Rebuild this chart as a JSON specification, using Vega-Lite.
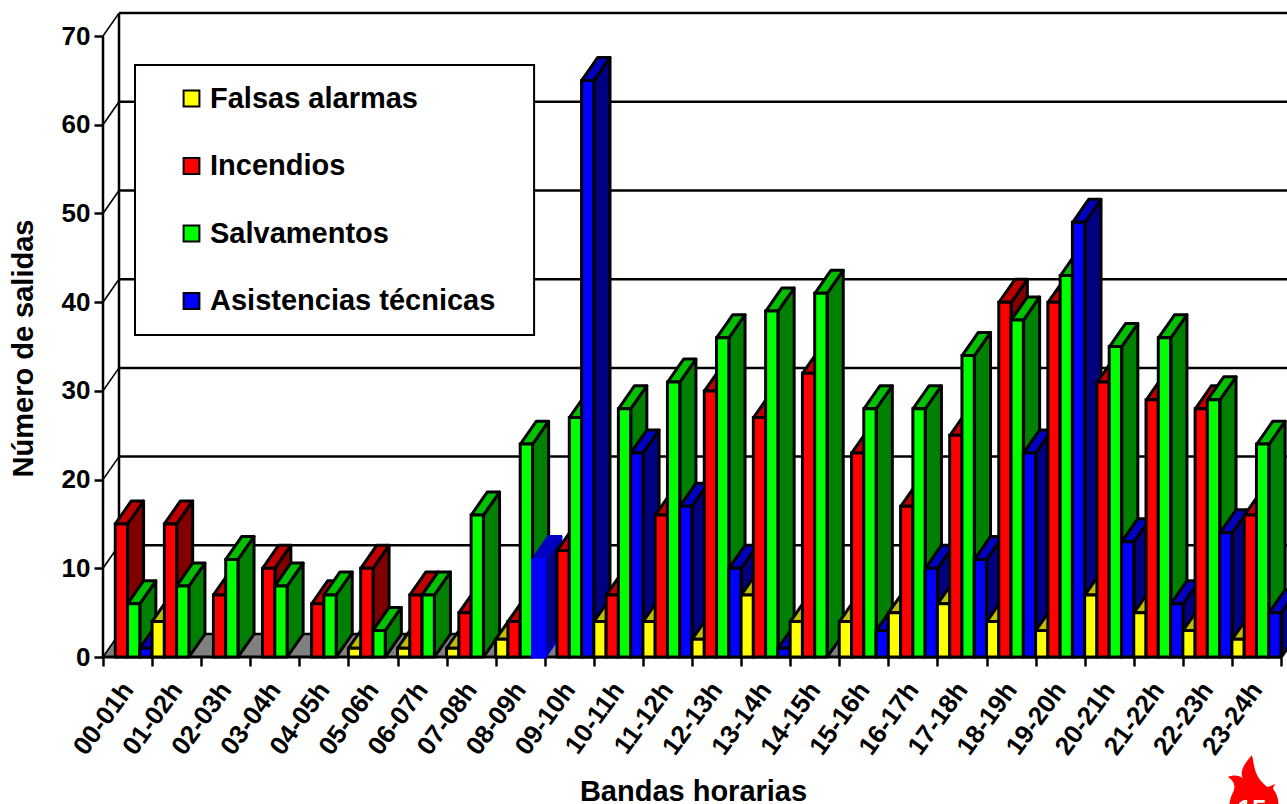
{"$schema":"https://vega.github.io/schema/vega-lite/v6.json","width":1184,"height":644,"autosize":{"type":"none"},"padding":{"left":103,"top":13,"right":0,"bottom":147},"background":"white","config":{"view":{"stroke":null},"font":"Liberation Sans"},
"datasets":{"bars":[
{"h":"00-01h","i":0,"s":"Falsas alarmas","j":0,"v":0},{"h":"00-01h","i":0,"s":"Incendios","j":1,"v":15},{"h":"00-01h","i":0,"s":"Salvamentos","j":2,"v":6},{"h":"00-01h","i":0,"s":"Asistencias técnicas","j":3,"v":1},
{"h":"01-02h","i":1,"s":"Falsas alarmas","j":0,"v":4},{"h":"01-02h","i":1,"s":"Incendios","j":1,"v":15},{"h":"01-02h","i":1,"s":"Salvamentos","j":2,"v":8},{"h":"01-02h","i":1,"s":"Asistencias técnicas","j":3,"v":0},
{"h":"02-03h","i":2,"s":"Falsas alarmas","j":0,"v":0},{"h":"02-03h","i":2,"s":"Incendios","j":1,"v":7},{"h":"02-03h","i":2,"s":"Salvamentos","j":2,"v":11},{"h":"02-03h","i":2,"s":"Asistencias técnicas","j":3,"v":0},
{"h":"03-04h","i":3,"s":"Falsas alarmas","j":0,"v":0},{"h":"03-04h","i":3,"s":"Incendios","j":1,"v":10},{"h":"03-04h","i":3,"s":"Salvamentos","j":2,"v":8},{"h":"03-04h","i":3,"s":"Asistencias técnicas","j":3,"v":0},
{"h":"04-05h","i":4,"s":"Falsas alarmas","j":0,"v":0},{"h":"04-05h","i":4,"s":"Incendios","j":1,"v":6},{"h":"04-05h","i":4,"s":"Salvamentos","j":2,"v":7},{"h":"04-05h","i":4,"s":"Asistencias técnicas","j":3,"v":0},
{"h":"05-06h","i":5,"s":"Falsas alarmas","j":0,"v":1},{"h":"05-06h","i":5,"s":"Incendios","j":1,"v":10},{"h":"05-06h","i":5,"s":"Salvamentos","j":2,"v":3},{"h":"05-06h","i":5,"s":"Asistencias técnicas","j":3,"v":0},
{"h":"06-07h","i":6,"s":"Falsas alarmas","j":0,"v":1},{"h":"06-07h","i":6,"s":"Incendios","j":1,"v":7},{"h":"06-07h","i":6,"s":"Salvamentos","j":2,"v":7},{"h":"06-07h","i":6,"s":"Asistencias técnicas","j":3,"v":0},
{"h":"07-08h","i":7,"s":"Falsas alarmas","j":0,"v":1},{"h":"07-08h","i":7,"s":"Incendios","j":1,"v":5},{"h":"07-08h","i":7,"s":"Salvamentos","j":2,"v":16},{"h":"07-08h","i":7,"s":"Asistencias técnicas","j":3,"v":0},
{"h":"08-09h","i":8,"s":"Falsas alarmas","j":0,"v":2},{"h":"08-09h","i":8,"s":"Incendios","j":1,"v":4},{"h":"08-09h","i":8,"s":"Salvamentos","j":2,"v":24},{"h":"08-09h","i":8,"s":"Asistencias técnicas","j":3,"v":11},
{"h":"09-10h","i":9,"s":"Falsas alarmas","j":0,"v":0},{"h":"09-10h","i":9,"s":"Incendios","j":1,"v":12},{"h":"09-10h","i":9,"s":"Salvamentos","j":2,"v":27},{"h":"09-10h","i":9,"s":"Asistencias técnicas","j":3,"v":65},
{"h":"10-11h","i":10,"s":"Falsas alarmas","j":0,"v":4},{"h":"10-11h","i":10,"s":"Incendios","j":1,"v":7},{"h":"10-11h","i":10,"s":"Salvamentos","j":2,"v":28},{"h":"10-11h","i":10,"s":"Asistencias técnicas","j":3,"v":23},
{"h":"11-12h","i":11,"s":"Falsas alarmas","j":0,"v":4},{"h":"11-12h","i":11,"s":"Incendios","j":1,"v":16},{"h":"11-12h","i":11,"s":"Salvamentos","j":2,"v":31},{"h":"11-12h","i":11,"s":"Asistencias técnicas","j":3,"v":17},
{"h":"12-13h","i":12,"s":"Falsas alarmas","j":0,"v":2},{"h":"12-13h","i":12,"s":"Incendios","j":1,"v":30},{"h":"12-13h","i":12,"s":"Salvamentos","j":2,"v":36},{"h":"12-13h","i":12,"s":"Asistencias técnicas","j":3,"v":10},
{"h":"13-14h","i":13,"s":"Falsas alarmas","j":0,"v":7},{"h":"13-14h","i":13,"s":"Incendios","j":1,"v":27},{"h":"13-14h","i":13,"s":"Salvamentos","j":2,"v":39},{"h":"13-14h","i":13,"s":"Asistencias técnicas","j":3,"v":1},
{"h":"14-15h","i":14,"s":"Falsas alarmas","j":0,"v":4},{"h":"14-15h","i":14,"s":"Incendios","j":1,"v":32},{"h":"14-15h","i":14,"s":"Salvamentos","j":2,"v":41},{"h":"14-15h","i":14,"s":"Asistencias técnicas","j":3,"v":0},
{"h":"15-16h","i":15,"s":"Falsas alarmas","j":0,"v":4},{"h":"15-16h","i":15,"s":"Incendios","j":1,"v":23},{"h":"15-16h","i":15,"s":"Salvamentos","j":2,"v":28},{"h":"15-16h","i":15,"s":"Asistencias técnicas","j":3,"v":3},
{"h":"16-17h","i":16,"s":"Falsas alarmas","j":0,"v":5},{"h":"16-17h","i":16,"s":"Incendios","j":1,"v":17},{"h":"16-17h","i":16,"s":"Salvamentos","j":2,"v":28},{"h":"16-17h","i":16,"s":"Asistencias técnicas","j":3,"v":10},
{"h":"17-18h","i":17,"s":"Falsas alarmas","j":0,"v":6},{"h":"17-18h","i":17,"s":"Incendios","j":1,"v":25},{"h":"17-18h","i":17,"s":"Salvamentos","j":2,"v":34},{"h":"17-18h","i":17,"s":"Asistencias técnicas","j":3,"v":11},
{"h":"18-19h","i":18,"s":"Falsas alarmas","j":0,"v":4},{"h":"18-19h","i":18,"s":"Incendios","j":1,"v":40},{"h":"18-19h","i":18,"s":"Salvamentos","j":2,"v":38},{"h":"18-19h","i":18,"s":"Asistencias técnicas","j":3,"v":23},
{"h":"19-20h","i":19,"s":"Falsas alarmas","j":0,"v":3},{"h":"19-20h","i":19,"s":"Incendios","j":1,"v":40},{"h":"19-20h","i":19,"s":"Salvamentos","j":2,"v":43},{"h":"19-20h","i":19,"s":"Asistencias técnicas","j":3,"v":49},
{"h":"20-21h","i":20,"s":"Falsas alarmas","j":0,"v":7},{"h":"20-21h","i":20,"s":"Incendios","j":1,"v":31},{"h":"20-21h","i":20,"s":"Salvamentos","j":2,"v":35},{"h":"20-21h","i":20,"s":"Asistencias técnicas","j":3,"v":13},
{"h":"21-22h","i":21,"s":"Falsas alarmas","j":0,"v":5},{"h":"21-22h","i":21,"s":"Incendios","j":1,"v":29},{"h":"21-22h","i":21,"s":"Salvamentos","j":2,"v":36},{"h":"21-22h","i":21,"s":"Asistencias técnicas","j":3,"v":6},
{"h":"22-23h","i":22,"s":"Falsas alarmas","j":0,"v":3},{"h":"22-23h","i":22,"s":"Incendios","j":1,"v":28},{"h":"22-23h","i":22,"s":"Salvamentos","j":2,"v":29},{"h":"22-23h","i":22,"s":"Asistencias técnicas","j":3,"v":14},
{"h":"23-24h","i":23,"s":"Falsas alarmas","j":0,"v":2},{"h":"23-24h","i":23,"s":"Incendios","j":1,"v":16},{"h":"23-24h","i":23,"s":"Salvamentos","j":2,"v":24},{"h":"23-24h","i":23,"s":"Asistencias técnicas","j":3,"v":5}
],"grid":[{"g":0},{"g":10},{"g":20},{"g":30},{"g":40},{"g":50},{"g":60},{"g":70}]},
"layer":[
{"layer":[
{"data":{"values":[{"k":"a","x":0,"y":0,"y2":0},{"k":"b","x":0.326,"y":0,"y2":2.59},{"k":"c","x":24,"y":0,"y2":2.59},{"k":"d","x":24.326,"y":2.59,"y2":2.59}]},
"mark":{"type":"area","fill":"#808080","stroke":"black","strokeWidth":1,"clip":true},
"encoding":{"x":{"field":"x","type":"quantitative","scale":{"domain":[0,24.114],"nice":false,"zero":false},"axis":null},"y":{"field":"y","type":"quantitative","scale":{"domain":[0,72.6],"nice":false},"axis":{"values":[0,10,20,30,40,50,60,70],"title":"Número de salidas","grid":false,"domain":false,"tickColor":"black","tickWidth":2.5,"tickSize":9,"labelFont":"Liberation Sans","labelFontWeight":"bold","labelFontSize":26,"labelColor":"black","labelPadding":4,"titleFont":"Liberation Sans","titleFontWeight":"bold","titleFontSize":29,"titleColor":"black","titleX":-65,"titleY":335}},"y2":{"field":"y2"}}},
{"data":{"name":"grid"},"transform":[{"calculate":"datum.g+2.59","as":"gb"}],"mark":{"type":"rule","stroke":"black","strokeWidth":2.5},"encoding":{"x":{"datum":0.326,"type":"quantitative","axis":null},"x2":{"datum":24.114},"y":{"field":"gb","type":"quantitative"}}},
{"data":{"name":"grid"},"transform":[{"calculate":"datum.g+2.59","as":"gb"},{"calculate":"0.326","as":"xb"},{"calculate":"0","as":"xa"},{"fold":["xa","xb"],"as":["end","xp"]},{"calculate":"datum.end==='xa'?datum.g:datum.gb","as":"yp"}],"mark":{"type":"line","stroke":"black","strokeWidth":1.6},"encoding":{"x":{"field":"xp","type":"quantitative","axis":null},"y":{"field":"yp","type":"quantitative"},"detail":{"field":"g"}}},
{"data":{"values":[{"a":0.326,"c":2.59,"d":72.6},{"a":0,"c":0,"d":70}]},"mark":{"type":"rule","stroke":"black","strokeWidth":2.5},"encoding":{"x":{"field":"a","type":"quantitative","axis":null},"y":{"field":"c","type":"quantitative"},"y2":{"field":"d"}}},
{"data":{"values":[{"a":0,"a2":24,"y":0}]},"mark":{"type":"rule","stroke":"black","strokeWidth":3},"encoding":{"x":{"field":"a","type":"quantitative","axis":null},"x2":{"field":"a2"},"y":{"field":"y","type":"quantitative"}}},
{"data":{"values":[{"a":0.652,"a2":8.78,"y":66.74,"y2":36.3}]},"mark":{"type":"rect","fill":"white","stroke":"black","strokeWidth":2},"encoding":{"x":{"field":"a","type":"quantitative","axis":null},"x2":{"field":"a2"},"y":{"field":"y","type":"quantitative"},"y2":{"field":"y2"}}},
{"data":{"name":"bars"},"transform":[{"filter":"datum.v>0"},{"calculate":"1000+datum.i*4+datum.j","as":"o"},
{"calculate":"datum.i+datum.j*0.25+0.25","as":"r"},{"calculate":"datum.i+datum.j*0.25","as":"l"},{"calculate":"datum.l+0.25","as":"sa"},{"calculate":"datum.r+0.326","as":"sb"},{"calculate":"datum.l","as":"ta"},{"calculate":"datum.l+0.25+0.0001","as":"tb"},{"calculate":"datum.l+0.326","as":"tc"},{"calculate":"datum.r+0.326+0.0001","as":"td"},
{"fold":["sa","sb","ta","tb","tc","td"],"as":["e","px"]},
{"calculate":"datum.e==='sa'?0:datum.e==='sb'?2.59:datum.e==='ta'?datum.v:datum.e==='tb'?datum.v:datum.e==='tc'?datum.v+2.59*(0.326-0.25)/0.326:datum.v+2.59","as":"py"},
{"calculate":"datum.e==='sa'?datum.v:datum.e==='sb'?datum.v+2.59:datum.e==='ta'?datum.v:datum.e==='tb'?datum.v+2.59*0.25/0.326:datum.e==='tc'?datum.v+2.59:datum.v+2.59","as":"py2"},
{"calculate":"datum.o+(datum.e[0]==='s'?'a':'b')","as":"face"},
{"calculate":"datum.s+(datum.e[0]==='s'?' lado':' techo')","as":"tone"}],
"mark":{"type":"area","strokeWidth":3,"strokeJoin":"round","clip":true},
"encoding":{"x":{"field":"px","type":"quantitative","axis":null},"y":{"field":"py","type":"quantitative"},"y2":{"field":"py2"},"detail":{"field":"face"},"stroke":{"condition":{"test":"datum.i===8&&datum.j===3","value":"#0000c0"},"value":"black"},"fill":{"field":"tone","type":"nominal","legend":null,"scale":{"domain":["Falsas alarmas lado","Falsas alarmas techo","Incendios lado","Incendios techo","Salvamentos lado","Salvamentos techo","Asistencias técnicas lado","Asistencias técnicas techo"],"range":["#808000","#c0c000","#800000","#c00000","#008000","#00c000","#000080","#0000c0"]}}}},
{"data":{"values":[{"x":23.4,"y":-15.1}]},"mark":{"type":"point","filled":true,"fill":"#ff0000","stroke":null,"opacity":1,"size":2900,"clip":false,"shape":"M0,-1.33 C-0.3,-1 -0.45,-0.75 -0.35,-0.48 C-0.5,-0.6 -0.7,-0.6 -0.9,-0.52 C-0.6,-0.35 -0.6,-0.1 -0.75,0.15 C-0.85,0.4 -0.9,0.7 -0.8,1 L0.9,1 C1.05,0.6 1,0.2 0.8,-0.05 C0.75,-0.15 0.85,-0.2 0.87,-0.26 C0.72,-0.2 0.62,-0.15 0.57,-0.15 C0.3,-0.35 0.15,-0.6 0.1,-0.85 C0.05,-1 0.05,-1.2 0,-1.33 Z"},"encoding":{"x":{"field":"x","type":"quantitative","axis":null},"y":{"field":"y","type":"quantitative"}}},
{"data":{"values":[{"x":23.4,"y":-17.2,"t":"15"}]},"mark":{"type":"text","fill":"white","font":"Liberation Sans","fontWeight":"bold","fontSize":26,"baseline":"middle","align":"center","clip":false},"encoding":{"x":{"field":"x","type":"quantitative","axis":null},"y":{"field":"y","type":"quantitative"},"text":{"field":"t"}}}
]},
{"data":{"name":"bars"},"transform":[{"filter":"datum.v>0"}],"mark":{"type":"bar","strokeWidth":3},
"encoding":{"x":{"field":"h","type":"nominal","sort":null,"scale":{"range":[0,1178],"paddingInner":0,"paddingOuter":0},"axis":{"tickBand":"extent","domain":false,"tickColor":"black","tickWidth":2.5,"tickSize":9,"labelAngle":-54,"labelAlign":"right","labelBaseline":"middle","labelFont":"Liberation Sans","labelFontWeight":"bold","labelFontSize":26,"labelColor":"black","labelPadding":19,"labelOffset":0,"title":"Bandas horarias","titleFont":"Liberation Sans","titleFontWeight":"bold","titleFontSize":29,"titleColor":"black","titleX":590,"titleY":134,"titleBaseline":"middle"}},
"xOffset":{"field":"s","type":"nominal","sort":["Falsas alarmas","Incendios","Salvamentos","Asistencias técnicas"],"scale":{"paddingInner":0,"paddingOuter":0}},
"y":{"field":"v","type":"quantitative"},
"stroke":{"condition":{"test":"datum.i===8&&datum.j===3","value":"#0000ff"},"value":"black"},
"fill":{"field":"s","type":"nominal","sort":["Falsas alarmas","Incendios","Salvamentos","Asistencias técnicas"],"scale":{"domain":["Falsas alarmas","Incendios","Salvamentos","Asistencias técnicas"],"range":["#ffff00","#ff0000","#00ff00","#0000ff"]},"legend":{"orient":"none","legendX":74,"legendY":71,"title":null,"symbolType":"square","symbolSize":250,"symbolStrokeColor":"black","symbolStrokeWidth":2,"symbolOpacity":1,"labelFont":"Liberation Sans","labelFontWeight":"bold","labelFontSize":29,"labelColor":"black","labelOffset":4,"labelLimit":500,"rowPadding":37.5,"zindex":1}}}}
],
"resolve":{"scale":{"x":"independent","fill":"independent"},"axis":{"x":"independent"}}}
